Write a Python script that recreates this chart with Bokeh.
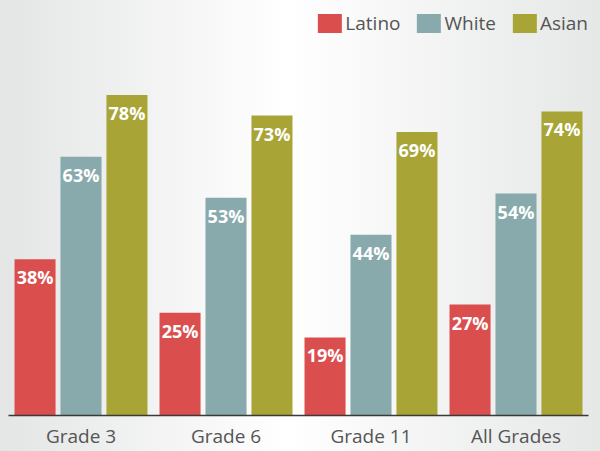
from bokeh.plotting import figure
from bokeh.models import ColumnDataSource, FactorRange, Range1d
from bokeh.transform import dodge
from bokeh.core.properties import value
from bokeh.embed import file_html
from bokeh.resources import INLINE

grades = ["Grade 3", "Grade 6", "Grade 11", "All Grades"]
latino = [38, 25, 19, 27]
white = [63, 53, 44, 54]
asian = [78, 73, 69, 74]
series_names = ["Latino", "White", "Asian"]
colors = ["#DA4E4E", "#88AAAC", "#A8A536"]

data = dict(grade=grades, Latino=latino, White=white, Asian=asian)
for name in series_names:
    data[name + "_lbl"] = [f"{v}%" for v in data[name]]
source = ColumnDataSource(data)

p = figure(x_range=FactorRange(factors=grades, range_padding=0),
           y_range=Range1d(0, 101),
           width=600, height=451, output_backend="svg", toolbar_location=None,
           min_border_left=8, min_border_right=12, min_border_top=0, min_border_bottom=0)

p.styles = {"background": "linear-gradient(to right, #e4e5e5 0%, #ffffff 48%, #e6e7e7 100%)"}
p.background_fill_color = None
p.border_fill_color = None
p.outline_line_color = None

offsets = [-0.317, 0.0, 0.317]
bar_w = 0.283
for name, color, off in zip(series_names, colors, offsets):
    p.vbar(x=dodge("grade", off, range=p.x_range), top=name, width=bar_w, source=source,
           fill_color=color, line_color=None, legend_label=name)
    p.text(x=dodge("grade", off, range=p.x_range), y=name, text=name + "_lbl", source=source,
           text_color="white", text_font=value("Open Sans"), text_font_style="bold",
           text_font_size="18px", text_align="center", text_baseline="top", y_offset=6)

p.yaxis.visible = False
p.xgrid.grid_line_color = None
p.ygrid.grid_line_color = None
p.xaxis.axis_line_color = "#3a3a3a"
p.xaxis.axis_line_width = 1.5
p.xaxis.major_tick_line_color = None
p.xaxis.minor_tick_line_color = None
p.xaxis.major_label_text_font = "Open Sans"
p.xaxis.major_label_text_font_size = "19px"
p.xaxis.major_label_text_color = "#555555"
p.xaxis.major_label_standoff = 1

lg = p.legend[0]
lg.orientation = "horizontal"
lg.location = "top_right"
lg.background_fill_alpha = 0
lg.border_line_color = None
lg.glyph_width = 30
lg.glyph_height = 24
lg.label_height = 46
lg.label_text_font = "Open Sans"
lg.label_text_font_size = "19px"
lg.label_text_color = "#555555"
lg.spacing = 13
lg.label_standoff = 1
lg.margin = 0
lg.padding = 4

open("out.html", "w").write(file_html(p, INLINE))
